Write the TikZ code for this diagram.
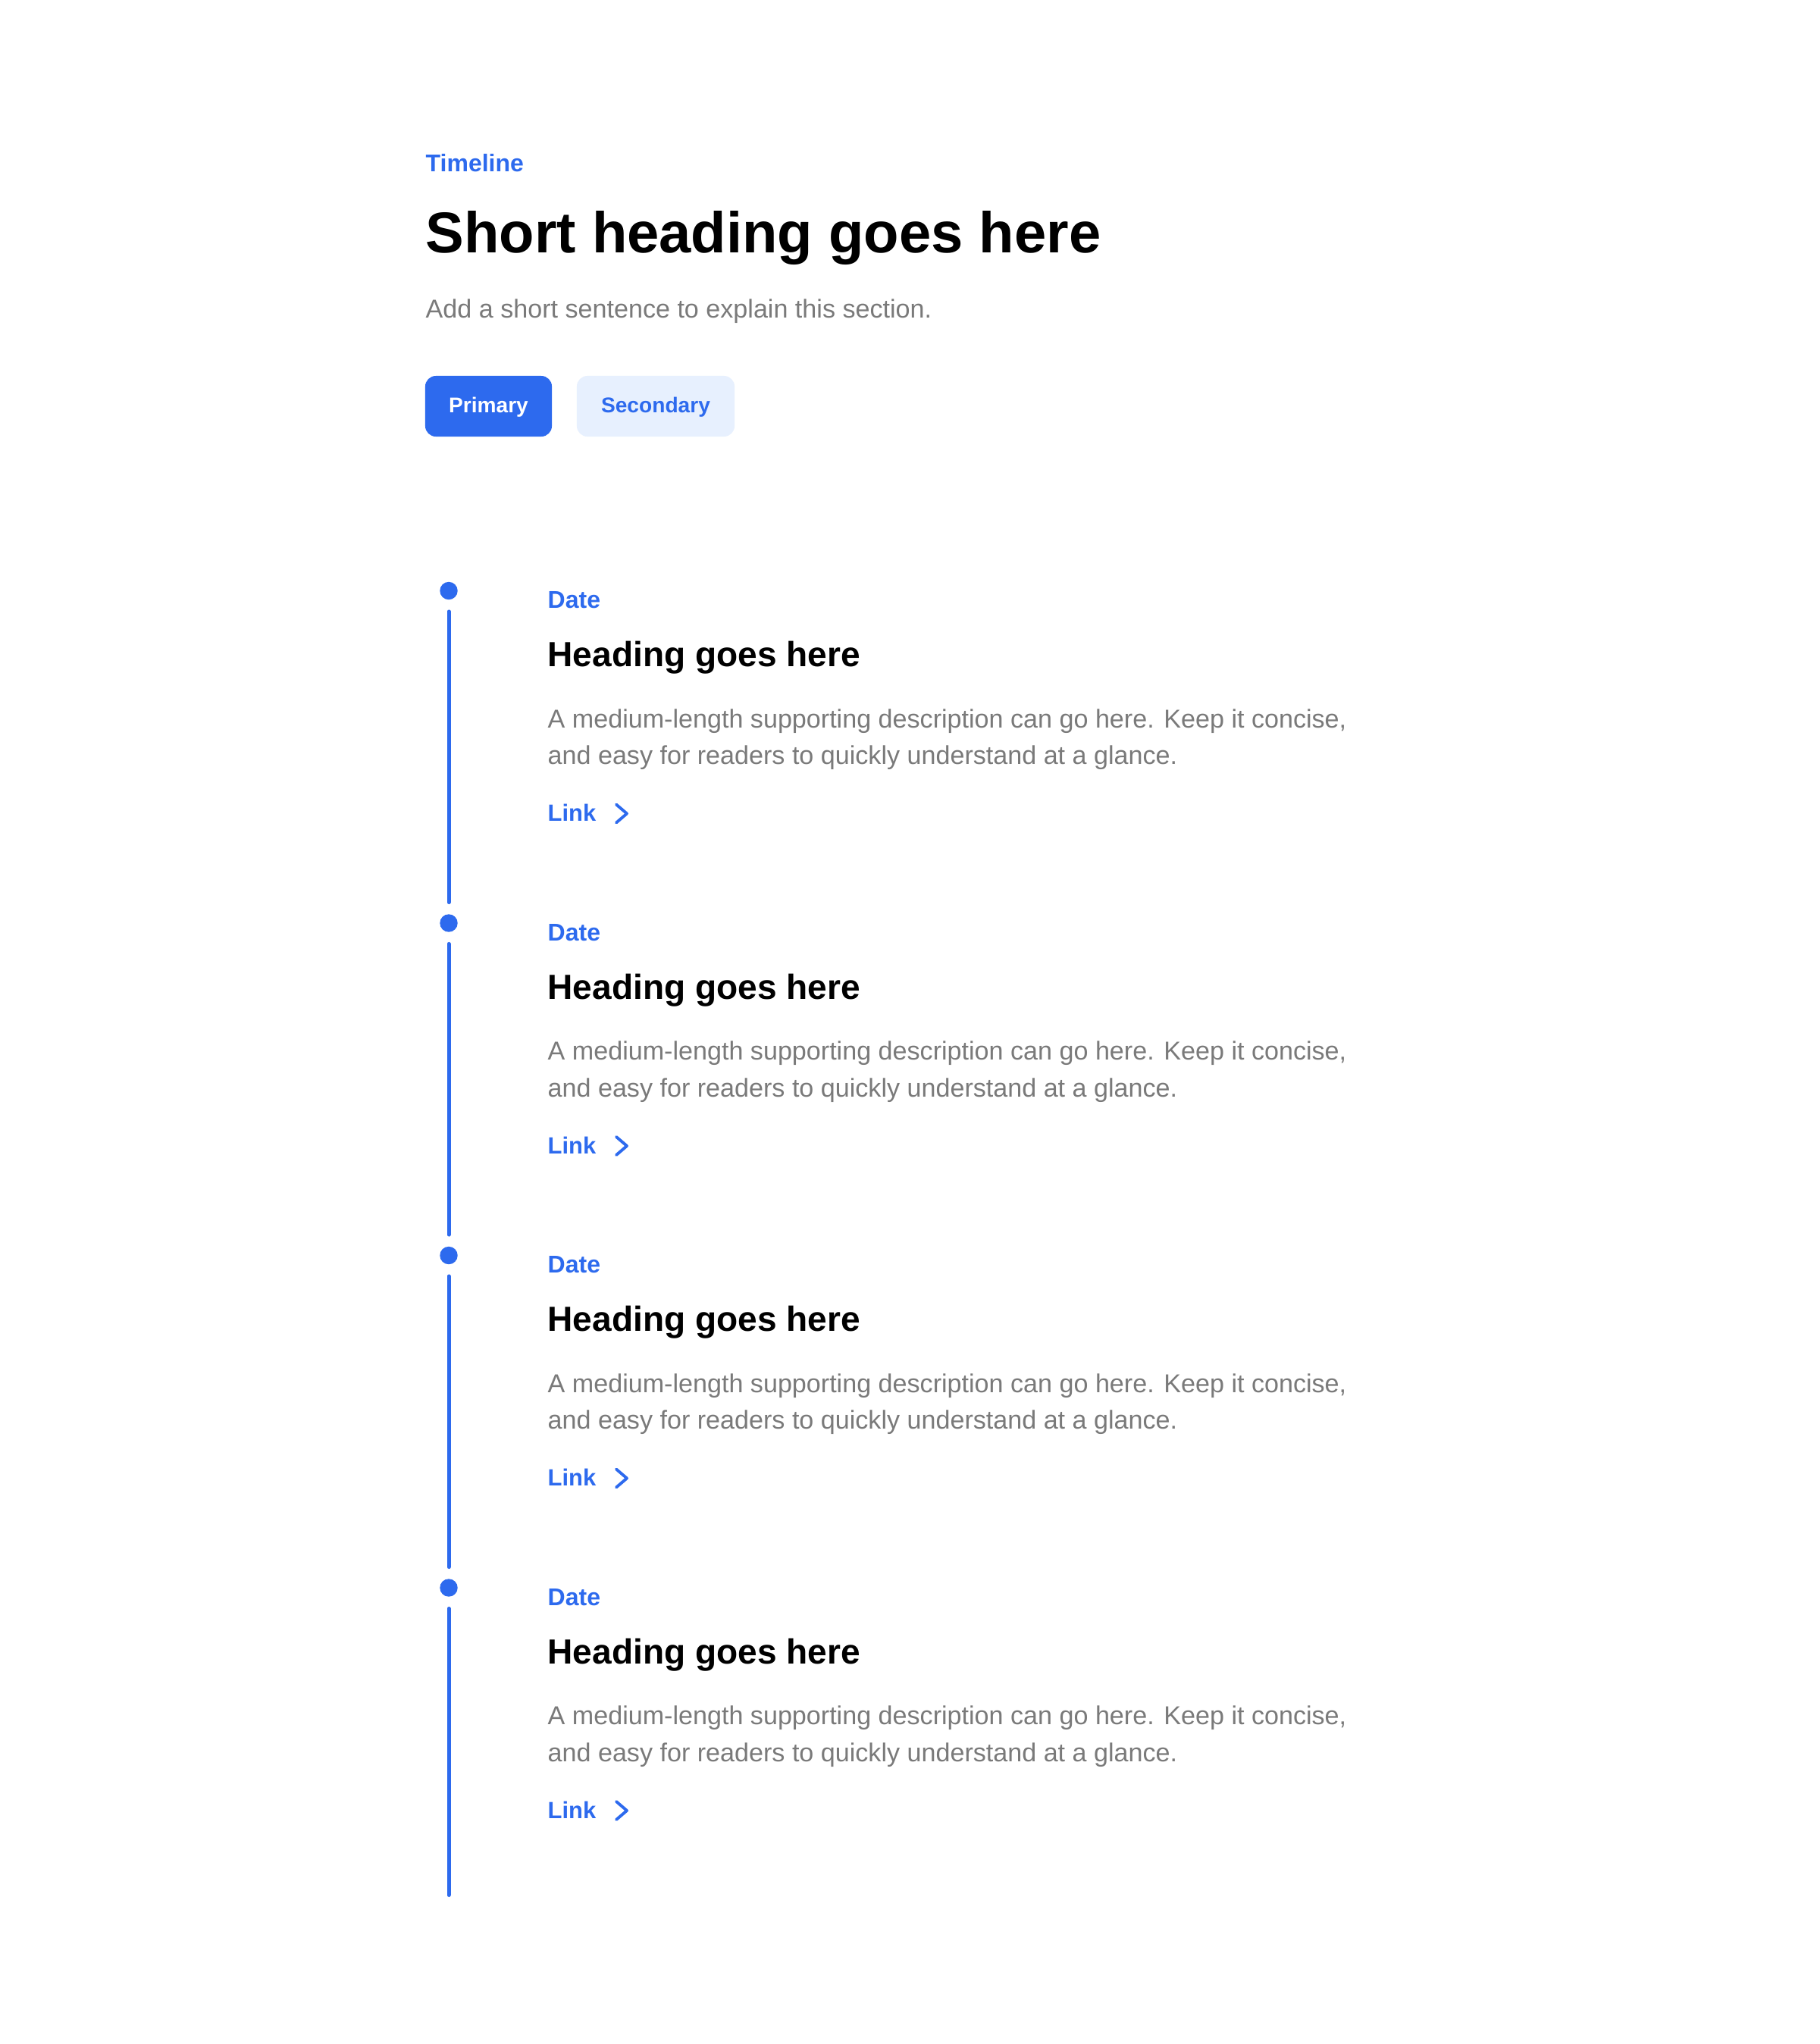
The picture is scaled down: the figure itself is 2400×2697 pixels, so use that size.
\documentclass[tikz,border=0pt]{standalone}
\usepackage{fontspec}
\setmainfont{Liberation Sans}
\definecolor{tlblue}{HTML}{2D6AEE}
\definecolor{tlpale}{HTML}{E7F0FE}
\definecolor{tlgray}{HTML}{7A7A7A}
\tikzset{
  txt/.style={anchor=base west,inner sep=0pt},
  eyebrow/.style={txt,text=tlblue,font=\fontsize{9.1pt}{11pt}\selectfont\bfseries},
  bighead/.style={txt,font=\fontsize{21.6pt}{26pt}\selectfont\bfseries},
  subline/.style={txt,text=tlgray,font=\fontsize{9.7pt}{12pt}\selectfont},
  btn/.style={rounded corners=0.14cm,minimum width=1.67cm,minimum height=0.8cm,inner sep=0pt,
    text height=0.72em,text depth=0.24em,font=\fontsize{8pt}{10pt}\selectfont\bfseries},
  btnprim/.style={btn,fill=tlblue,text=white},
  btnsec/.style={btn,fill=tlpale,text=tlblue,minimum width=2.08cm},
  tdot/.style={circle,fill=tlblue,minimum size=0.234cm,inner sep=0pt},
  tline/.style={draw=tlblue,line width=1.42pt,line cap=round,shorten <=0.15cm,shorten >=0.15cm},
  itemhead/.style={txt,font=\fontsize{13.1pt}{16pt}\selectfont\bfseries},
  itemdesc/.style={txt,align=left,text=tlgray,font=\fontsize{9.7pt}{13.66pt}\selectfont},
  linktxt/.style={txt,text=tlblue,font=\fontsize{8.8pt}{11pt}\selectfont\bfseries},
  chev/.style={draw=tlblue,line width=1.1pt,line cap=round,line join=round}
}
\begin{document}
\begin{tikzpicture}[x=0.01cm,y=-0.01cm]
  \useasboundingbox[fill=white] (0,0) rectangle (2400,2697);
  % header
  \node[eyebrow] (kicker) at (561,227) {Timeline};
  \node[bighead] (title) at (561,333) {Short heading goes here};
  \node[subline] (intro) at (561,419) {Add a short sentence to explain this section.};
  \node[btnprim] (prim) at (644.5,536) {Primary};
  \node[btnsec] (sec) at (865,536) {Secondary};
  % timeline dots and line
  \node[tdot] (d1) at (592,779.5) {};
  \node[tdot] (d2) at (592,1218) {};
  \node[tdot] (d3) at (592,1656.5) {};
  \node[tdot] (d4) at (592,2095) {};
  \coordinate (tend) at (592,2500.5);
  \draw[tline] (d1) -- (d2);
  \draw[tline] (d2) -- (d3);
  \draw[tline] (d3) -- (d4);
  \draw[tline,shorten >=0pt] (d4) -- (tend);
  % item 1
  \node[eyebrow] (date1) at (722,802.5) {Date};
  \node[itemhead] (head1) at (722,879.5) {Heading goes here};
  \node[itemdesc] (desc1) at (722,1008.5) {A medium-length supporting description can go here. Keep it concise,\\and easy for readers to quickly understand at a glance.};
  \node[linktxt] (link1) at (722,1083.5) {Link};
  \draw[chev] (813,1061.5) -- (827,1073.5) -- (813,1085.5);
  % item 2
  \node[eyebrow] (date2) at (722,1241) {Date};
  \node[itemhead] (head2) at (722,1318) {Heading goes here};
  \node[itemdesc] (desc2) at (722,1447) {A medium-length supporting description can go here. Keep it concise,\\and easy for readers to quickly understand at a glance.};
  \node[linktxt] (link2) at (722,1522) {Link};
  \draw[chev] (813,1500) -- (827,1512) -- (813,1524);
  % item 3
  \node[eyebrow] (date3) at (722,1679.5) {Date};
  \node[itemhead] (head3) at (722,1756.5) {Heading goes here};
  \node[itemdesc] (desc3) at (722,1885.5) {A medium-length supporting description can go here. Keep it concise,\\and easy for readers to quickly understand at a glance.};
  \node[linktxt] (link3) at (722,1960.5) {Link};
  \draw[chev] (813,1938.5) -- (827,1950.5) -- (813,1962.5);
  % item 4
  \node[eyebrow] (date4) at (722,2118) {Date};
  \node[itemhead] (head4) at (722,2195) {Heading goes here};
  \node[itemdesc] (desc4) at (722,2324) {A medium-length supporting description can go here. Keep it concise,\\and easy for readers to quickly understand at a glance.};
  \node[linktxt] (link4) at (722,2399) {Link};
  \draw[chev] (813,2377) -- (827,2389) -- (813,2401);
\end{tikzpicture}
\end{document}
